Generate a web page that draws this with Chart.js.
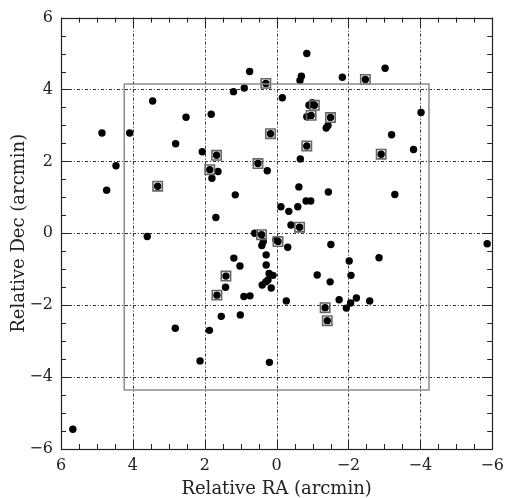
<!DOCTYPE html>
<html>
<head>
<meta charset="utf-8">
<script src="https://cdn.jsdelivr.net/npm/chart.js@4/dist/chart.umd.min.js"></script>
<style>
  html, body { margin: 0; padding: 0; background: #fff; }
  #wrap { width: 511px; height: 498px; }
</style>
</head>
<body>
<div id="wrap"><canvas id="c" width="511" height="498"></canvas></div>
<script>
// Source positions relative to the field centre, in arcmin
const raOffsets = [
  0.75, 0.30, 0.90, 1.20, 3.45, 2.52, 1.82, 4.86, 4.09, 0.17,
  2.81, 2.07, 1.67, 4.47, 1.86, 1.63, 0.52, 0.26, 1.80, 4.73,
  3.31, 1.15, 1.69, 3.60, 0.61, 0.42,
  -0.84, -0.69, -0.65, -1.83, -2.47, -3.02, -0.16, -0.90, -0.99, -1.05,
  -0.96, -0.84, -1.50, -1.43, -1.38, -4.02, -3.20, -0.84, -2.91, -3.81,
  -0.66, -0.62, -1.44, -3.29, -0.12, -0.34, -0.59, -0.82, -0.95, -0.40,
  -0.64,
  0.37, 0.41, -0.04, 0.02, -0.31, 1.19, 0.29, 1.02, 0.29, 0.21,
  0.10, 1.41, 0.24, 0.30, 0.40, 0.15, 1.42, 1.66, 0.91, 0.74,
  1.54, 1.01, 2.82, 1.87, 2.13, 0.20, 5.67, -0.27,
  -1.51, -2.85, -2.02, -1.13, -2.07, -1.49, -1.35, -1.74, -1.94, -2.06,
  -2.22, -2.59, -1.41, -5.86
];
const decOffsets = [
  4.50, 4.17, 4.04, 3.94, 3.68, 3.23, 3.31, 2.79, 2.79, 2.77,
  2.49, 2.27, 2.17, 1.88, 1.77, 1.72, 1.94, 1.74, 1.53, 1.20,
  1.31, 1.07, 0.44, -0.09, 0.00, -0.04,
  5.00, 4.37, 4.25, 4.34, 4.28, 4.59, 3.77, 3.56, 3.63, 3.56,
  3.28, 3.24, 3.22, 3.00, 2.93, 3.36, 2.74, 2.43, 2.20, 2.33,
  2.07, 1.29, 1.15, 1.08, 0.74, 0.61, 0.74, 0.90, 0.90, 0.23,
  0.17,
  -0.23, -0.34, -0.23, -0.18, -0.39, -0.69, -0.60, -0.91, -0.88, -1.12,
  -1.17, -1.19, -1.30, -1.35, -1.44, -1.52, -1.50, -1.72, -1.76, -1.74,
  -2.31, -2.27, -2.64, -2.70, -3.55, -3.59, -5.45, -1.88,
  -0.31, -0.68, -0.77, -1.16, -1.17, -1.35, -2.07, -1.85, -2.08, -1.94,
  -1.80, -1.88, -2.43, -0.29
];

// Sources flagged with a square marker
const flaggedRa  = [0.30, 0.17, 1.67, 1.86, 0.52, 3.31, 0.42, -2.47, -1.05, -0.96, -1.50, -0.84, -2.91, -0.64, -0.04, 1.41, 1.66, -1.35, -1.41];
const flaggedDec = [4.17, 2.77, 2.17, 1.77, 1.94, 1.31, -0.04, 4.28, 3.56, 3.28, 3.22, 2.43, 2.20, 0.17, -0.23, -1.19, -1.72, -2.07, -2.43];

// Imaging field outline (corners, closed)
const fieldRa  = [4.24, -4.24, -4.24, 4.24, 4.24];
const fieldDec = [4.15, 4.15, -4.36, -4.36, 4.15];

// Axis range and labelled ticks
const axisMin = -6, axisMax = 6;
const majorStep = 2, minorStep = 0.5;

const toPoints = (xs, ys) => xs.map((x, i) => ({ x: x, y: ys[i] }));
const fmt = v => (v < 0 ? '\u2212' + Math.abs(v) : String(v));

const FONT = "'DejaVu Serif', 'Liberation Serif', serif";
const INK = '#222';

// Frame, dotted grid and inward tick marks on all four sides
const framePlugin = {
  id: 'frame',
  beforeDatasetsDraw(chart) {
    const { ctx, chartArea: a, scales: { x, y } } = chart;
    ctx.save();
    ctx.strokeStyle = '#333';
    ctx.lineWidth = 1;
    ctx.setLineDash([3, 2, 1, 2]);
    for (let v = axisMin + majorStep; v < axisMax; v += majorStep) {
      const px = Math.round(x.getPixelForValue(v)) + 0.5;
      ctx.beginPath(); ctx.moveTo(px, a.top); ctx.lineTo(px, a.bottom); ctx.stroke();
      const py = Math.round(y.getPixelForValue(v)) + 0.5;
      ctx.beginPath(); ctx.moveTo(a.left, py); ctx.lineTo(a.right, py); ctx.stroke();
    }
    ctx.setLineDash([]);
    ctx.strokeStyle = '#222';
    const n = Math.round((axisMax - axisMin) / minorStep);
    for (let i = 0; i <= n; i++) {
      const v = axisMin + i * minorStep;
      const len = (Math.abs(v % majorStep) < 1e-9) ? 9 : 5;
      const px = Math.round(x.getPixelForValue(v)) + 0.5;
      const py = Math.round(y.getPixelForValue(v)) + 0.5;
      ctx.beginPath();
      ctx.moveTo(px, a.bottom); ctx.lineTo(px, a.bottom - len);
      ctx.moveTo(px, a.top); ctx.lineTo(px, a.top + len);
      ctx.moveTo(a.left, py); ctx.lineTo(a.left + len, py);
      ctx.moveTo(a.right, py); ctx.lineTo(a.right - len, py);
      ctx.stroke();
    }
    ctx.lineWidth = 1.2;
    ctx.strokeRect(Math.round(a.left) + 0.5, Math.round(a.top) + 0.5,
                   Math.round(a.right - a.left), Math.round(a.bottom - a.top));
    ctx.restore();
  }
};

new Chart(document.getElementById('c'), {
  type: 'scatter',
  data: {
    datasets: [
      {
        label: 'field',
        data: toPoints(fieldRa, fieldDec),
        showLine: true,
        borderColor: '#8c8c8c',
        borderWidth: 1.5,
        pointRadius: 0,
        fill: false,
        tension: 0
      },
      {
        label: 'flagged',
        data: toPoints(flaggedRa, flaggedDec),
        pointStyle: 'rect',
        pointRadius: 6.6,
        borderColor: '#666',
        borderWidth: 1.6,
        backgroundColor: 'rgba(0,0,0,0)'
      },
      {
        label: 'sources',
        data: toPoints(raOffsets, decOffsets),
        pointStyle: 'circle',
        pointRadius: 3.7,
        borderWidth: 0,
        backgroundColor: '#000'
      }
    ]
  },
  options: {
    responsive: false,
    animation: false,
    devicePixelRatio: 1,
    layout: { padding: { left: 0, top: 14, right: 13, bottom: 0 } },
    plugins: { legend: { display: false }, tooltip: { enabled: false } },
    scales: {
      x: {
        type: 'linear',
        min: axisMin, max: axisMax,
        reverse: true,
        grid: { display: false, drawTicks: false },
        border: { display: false },
        ticks: {
          stepSize: majorStep,
          padding: 7,
          color: INK,
          font: { family: FONT, size: 16 },
          maxRotation: 0,
          callback: v => fmt(v)
        },
        title: {
          display: true,
          text: 'Relative RA (arcmin)',
          color: INK,
          font: { family: FONT, size: 18, lineHeight: 1 },
          padding: { top: 0, bottom: 0 }
        },
        afterFit: s => { s.height = 49; }
      },
      y: {
        type: 'linear',
        min: axisMin, max: axisMax,
        grid: { display: false, drawTicks: false },
        border: { display: false },
        ticks: {
          stepSize: majorStep,
          padding: 8,
          color: INK,
          font: { family: FONT, size: 16 },
          callback: v => fmt(v)
        },
        title: {
          display: true,
          text: 'Relative Dec (arcmin)',
          color: INK,
          font: { family: FONT, size: 18, lineHeight: 1 },
          padding: { top: 10, bottom: 0 }
        },
        afterFit: s => { s.width = 61; }
      }
    }
  },
  plugins: [framePlugin]
});
</script>
</body>
</html>
